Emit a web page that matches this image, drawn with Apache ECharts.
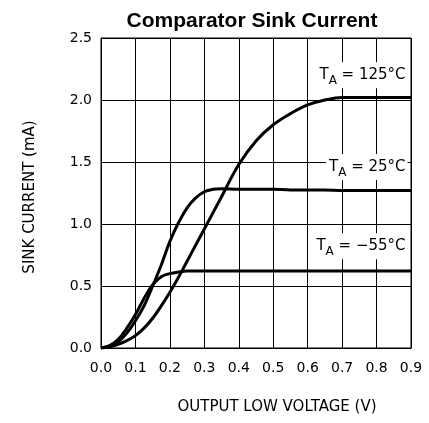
<!DOCTYPE html>
<html>
<head>
<meta charset="utf-8">
<script src="https://cdn.jsdelivr.net/npm/echarts@6/dist/echarts.min.js"></script>
<style>
  html, body { margin: 0; padding: 0; background: #fff; }
  #main { width: 429px; height: 423px; }
</style>
</head>
<body>
<div id="main"></div>
<script>
// output low voltage (V)
var voltage = [0, 0.025, 0.05, 0.075, 0.1, 0.125, 0.15, 0.175, 0.2, 0.225, 0.25, 0.275, 0.3, 0.325, 0.35, 0.4, 0.45, 0.5, 0.55, 0.6, 0.65, 0.7, 0.8, 0.9];
// sink current (mA) per ambient temperature
var sinkM55 = [0, 0.02, 0.07, 0.16, 0.27, 0.40, 0.51, 0.575, 0.60, 0.613, 0.62, 0.62, 0.62, 0.62, 0.62, 0.62, 0.62, 0.62, 0.62, 0.62, 0.62, 0.62, 0.62, 0.62];
var sink25 = [0, 0.015, 0.05, 0.12, 0.22, 0.34, 0.50, 0.67, 0.86, 1.01, 1.13, 1.21, 1.26, 1.28, 1.285, 1.28, 1.28, 1.28, 1.275, 1.275, 1.275, 1.27, 1.27, 1.27];
var sink125 = [0, 0.01, 0.03, 0.06, 0.10, 0.16, 0.24, 0.34, 0.45, 0.57, 0.70, 0.83, 0.96, 1.09, 1.22, 1.48, 1.67, 1.80, 1.89, 1.96, 2.00, 2.02, 2.02, 2.02];
var tempLabels = ['\u221255°C', '25°C', '125°C'];
var labelAt = [[0.89, 0.82], [0.89, 1.46], [0.89, 2.2]];

var font = 'DejaVu Sans';

function pairs(ys) {
    return voltage.map(function (v, i) { return [v, ys[i]]; });
}

function curve(ys, k) {
    return {
        type: 'line',
        data: pairs(ys),
        smooth: 0.4,
        symbol: 'none',
        lineStyle: { color: '#000', width: 3 },
        markPoint: {
            symbol: 'circle',
            symbolSize: 0,
            data: [{ coord: labelAt[k] }],
            label: {
                show: true,
                position: 'left',
                distance: 0,
                backgroundColor: '#fff',
                padding: [1, 2, 1, 3],
                formatter: '{t|T}{s|A}{t| = ' + tempLabels[k] + '}',
                rich: {
                    t: { fontFamily: font, fontSize: 15, color: '#000' },
                    s: { fontFamily: font, fontSize: 12, color: '#000', verticalAlign: 'bottom', padding: [12, 0, 0, 0] }
                }
            }
        }
    };
}

var chart = echarts.init(document.getElementById('main'));
chart.setOption({
    animation: false,
    title: {
        text: 'Comparator Sink Current',
        left: 247,
        textAlign: 'center',
        top: 6,
        textStyle: { fontFamily: 'Liberation Sans', fontWeight: 'bold', fontSize: 21, color: '#000' }
    },
    grid: { left: 101, right: 18, top: 38, bottom: 75, show: true, borderColor: '#000', borderWidth: 1 },
    xAxis: {
        type: 'value',
        min: 0, max: 0.9, interval: 0.1,
        name: 'OUTPUT LOW VOLTAGE (V)',
        nameLocation: 'middle',
        nameGap: 52,
        nameTextStyle: { fontFamily: font, fontSize: 15, color: '#000', padding: [0, 0, 0, 42] },
        axisLine: { lineStyle: { color: '#000', width: 1 } },
        axisTick: { show: false },
        axisLabel: { fontFamily: font, fontSize: 14, color: '#000', margin: 13,
            formatter: function (v) { return v.toFixed(1); } },
        splitLine: { lineStyle: { color: '#000', width: 1 } }
    },
    yAxis: {
        type: 'value',
        min: 0, max: 2.5, interval: 0.5,
        name: 'SINK CURRENT (mA)',
        nameLocation: 'middle',
        nameGap: 63,
        nameTextStyle: { fontFamily: font, fontSize: 15, color: '#000', padding: [0, 8, 0, 0] },
        axisLine: { show: true, lineStyle: { color: '#000', width: 1 } },
        axisTick: { show: false },
        axisLabel: { fontFamily: font, fontSize: 14, color: '#000', margin: 9,
            formatter: function (v) { return v.toFixed(1); } },
        splitLine: { lineStyle: { color: '#000', width: 1 } }
    },
    series: [curve(sinkM55, 0), curve(sink25, 1), curve(sink125, 2)]
});
</script>
</body>
</html>
